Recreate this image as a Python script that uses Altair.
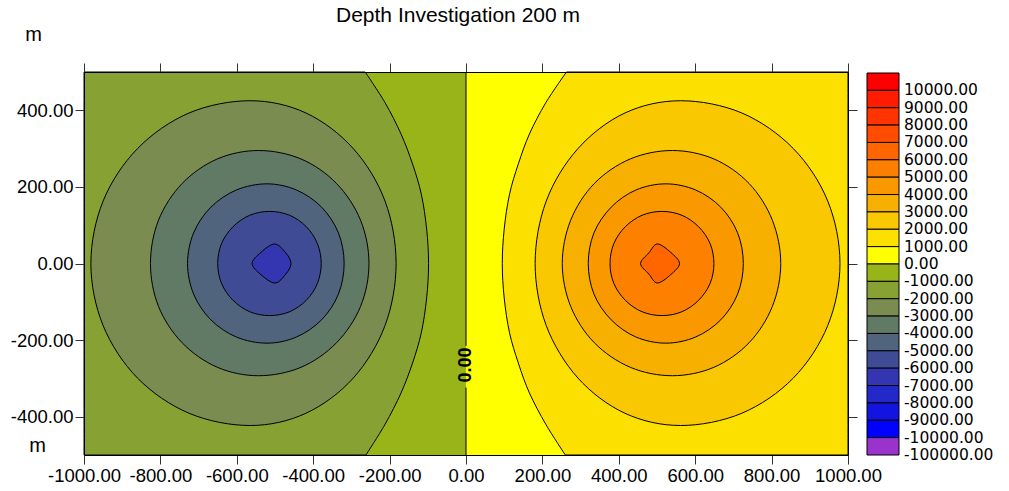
import altair as alt
import pandas as pd

TITLE = "Depth Investigation 200 m"

x_tick_values = [-1000, -800, -600, -400, -200, 0, 200, 400, 600, 800, 1000]
y_tick_values = [-400, -200, 0, 200, 400]

legend_labels = ["10000.00", "9000.00", "8000.00", "7000.00", "6000.00", "5000.00",
                 "4000.00", "3000.00", "2000.00", "1000.00", "0.00",
                 "-1000.00", "-2000.00", "-3000.00", "-4000.00", "-5000.00",
                 "-6000.00", "-7000.00", "-8000.00", "-9000.00", "-10000.00", "-100000.00"]
legend_colors = ["#FF0000", "#FF1C00", "#FF3400", "#FF4C00", "#FF6600", "#FD7F00",
                 "#FA9800", "#F8B000", "#F9C800", "#FCE100", "#FFFF00",
                 "#98B418", "#87A133", "#7B8C50", "#607A66", "#51647E",
                 "#3F4C95", "#3336B0", "#2229C8", "#1414E0", "#0000FF", "#9933CC"]

# half planes (-1000..0 on the left, 0..1000 on the right)
half_x0 = [-1000, 0]
half_x1 = [0, 1000]
half_colors = ["#98B418", "#FFFF00"]

# open -1000 / +1000 contours, read at these y levels
arc_y = [500, 420, 338, 260, 181, 90, 0, -90, -181, -260, -338, -420, -500]
arc_neg1000_x = [-264, -212, -170, -140, -117, -103, -98, -103, -117, -140, -170, -212, -262]
arc_pos1000_x = [263, 209, 166, 137, 114, 100, 95, 100, 114, 137, 166, 209, 260]
arc_colors = ["#87A133", "#FCE100"]
arc_edges = [-1000, 1000]

# closed contours, points read clockwise starting at the left-most point
ring_n2000_x = [-982, -950, -860, -725, -565, -419, -295, -212, -183, -212, -295, -419, -565, -725, -860, -950]
ring_n2000_y = [0, 163, 300, 393, 425, 393, 300, 163, 0, -162, -299, -391, -423, -391, -299, -162]
ring_n3000_x = [-826, -805, -743, -651, -543, -432, -339, -276, -254, -276, -339, -432, -543, -651, -743, -805]
ring_n3000_y = [0, 113, 209, 273, 295, 273, 209, 113, 0, -112, -207, -271, -293, -271, -207, -112]
ring_n4000_x = [-729, -713, -668, -601, -521, -444, -378, -334, -319, -334, -378, -444, -521, -601, -668, -713]
ring_n4000_y = [0, 80, 147, 192, 208, 192, 147, 80, 0, -80, -147, -192, -208, -192, -147, -80]
ring_n5000_x = [-650, -640, -610, -566, -514, -462, -418, -389, -379, -389, -418, -462, -514, -566, -610, -640]
ring_n5000_y = [0, 52, 96, 126, 136, 126, 96, 52, 0, -52, -96, -126, -136, -126, -96, -52]
ring_n6000_x = [-560, -537, -501, -472, -458, -472, -500, -537]
ring_n6000_y = [0, 29, 51, 28, 0, -28, -51, -29]

ring_p2000_x = [181, 210, 293, 416, 562, 722, 857, 947, 979, 947, 857, 722, 562, 416, 293, 210]
ring_p2000_y = [0, 163, 300, 393, 425, 393, 300, 163, 0, -162, -299, -391, -423, -391, -299, -162]
ring_p3000_x = [252, 274, 336, 430, 540, 649, 741, 802, 824, 802, 741, 649, 540, 430, 336, 274]
ring_p3000_y = [0, 113, 209, 273, 295, 273, 209, 113, 0, -112, -207, -271, -293, -271, -207, -112]
ring_p4000_x = [320, 335, 380, 445, 523, 601, 667, 711, 726, 711, 667, 601, 523, 445, 380, 335]
ring_p4000_y = [0, 80, 147, 192, 208, 192, 147, 80, 0, -80, -147, -192, -208, -192, -147, -80]
ring_p5000_x = [377, 387, 417, 461, 513, 565, 609, 639, 649, 639, 609, 565, 513, 461, 417, 387]
ring_p5000_y = [0, 52, 96, 126, 136, 126, 96, 52, 0, -52, -96, -126, -136, -126, -96, -52]
ring_p6000_x = [457, 479, 501, 536, 559, 536, 501, 479]
ring_p6000_y = [0, 28, 51, 29, 0, -29, -51, -28]

rings = [
    (0, "n2000", "#7B8C50", ring_n2000_x, ring_n2000_y),
    (1, "n3000", "#607A66", ring_n3000_x, ring_n3000_y),
    (2, "n4000", "#51647E", ring_n4000_x, ring_n4000_y),
    (3, "n5000", "#3F4C95", ring_n5000_x, ring_n5000_y),
    (4, "n6000", "#3336B0", ring_n6000_x, ring_n6000_y),
    (0, "p2000", "#F9C800", ring_p2000_x, ring_p2000_y),
    (1, "p3000", "#F8B000", ring_p3000_x, ring_p3000_y),
    (2, "p4000", "#FA9800", ring_p4000_x, ring_p4000_y),
    (3, "p5000", "#FD8000", ring_p5000_x, ring_p5000_y),
    (4, "p6000", "#FF6600", ring_p6000_x, ring_p6000_y),
]

# zero contour (with gap for its label)
zero_seg_y0 = [500, -324]
zero_seg_y1 = [-215, -500]
zero_label_y = -265

# ---------------------------------------------------------------- tables
half_df = pd.DataFrame({"x0": half_x0, "x1": half_x1, "y0": [-500, -500],
                        "y1": [500, 500], "color": half_colors})
arc_rows = []
for side, xs in enumerate([arc_neg1000_x, arc_pos1000_x]):
    for k, (xv, yv) in enumerate(zip(xs, arc_y)):
        arc_rows.append({"side": side, "k": k, "x": xv, "y": yv,
                         "edge": arc_edges[side], "color": arc_colors[side]})
arc_df = pd.DataFrame(arc_rows)

ring_rows = []
for rank, name, color, xs, ys in rings:
    for k, (xv, yv) in enumerate(zip(xs, ys)):
        ring_rows.append({"rank": rank, "ring": name, "k": k, "x": xv, "y": yv, "color": color})
ring_df = pd.DataFrame(ring_rows)

zero_df = pd.DataFrame({"y0": zero_seg_y0, "y1": zero_seg_y1})
zlabel_df = pd.DataFrame({"x": [0], "y": [zero_label_y], "t": ["0.00"]})

leg_df = pd.DataFrame({"top": list(range(len(legend_labels))),
                       "bottom": [i + 1 for i in range(len(legend_labels))],
                       "label": legend_labels, "color": legend_colors})

# ---------------------------------------------------------------- scales / axes
FONT = "Liberation Sans"
LBL = "datum.value < 0 ? '-' + format(-datum.value, '.2f') : format(datum.value, '.2f')"


def XS():
    return alt.Scale(domain=[-1000, 1000], nice=False, zero=False)


def YS():
    return alt.Scale(domain=[-500, 500], nice=False, zero=False)


ax_bottom = alt.Axis(orient="bottom", values=x_tick_values, labelExpr=LBL, tickSize=9,
                     labelPadding=2, labelOverlap=False, labelFlush=False, labelBound=False,
                     domain=True, grid=False, title="m", titleAngle=0,
                     titleX=-47, titleY=-4, titleAlign="center", titleBaseline="alphabetic",
                     titleFontSize=20, zindex=1)
ax_left = alt.Axis(orient="left", values=y_tick_values, labelExpr=LBL, tickSize=9,
                   labelPadding=2, labelOverlap=False, labelFlush=False,
                   domain=True, grid=False, title="m", titleAngle=0,
                   titleX=-51, titleY=-32, titleAlign="center", titleBaseline="alphabetic",
                   titleFontSize=20, zindex=1)
ax_top = alt.Axis(orient="top", values=x_tick_values, labels=False, tickSize=9,
                  domain=True, grid=False, title=None, zindex=1)
ax_right = alt.Axis(orient="right", values=y_tick_values, labels=False, tickSize=9,
                    domain=True, grid=False, title=None, zindex=1)

# ---------------------------------------------------------------- layers
bg = alt.Chart(half_df).mark_rect().encode(
    x=alt.X("x0:Q", scale=XS(), axis=ax_bottom),
    x2="x1:Q",
    y=alt.Y("y0:Q", scale=YS(), axis=ax_left),
    y2="y1:Q",
    fill=alt.Fill("color:N", scale=None),
)

frame = alt.Chart(half_df).mark_point(opacity=0).encode(
    x=alt.X("x0:Q", scale=XS(), axis=ax_top),
    y=alt.Y("y0:Q", scale=YS(), axis=ax_right),
)

arcs = alt.Chart(arc_df).mark_area(orient="horizontal", interpolate="cardinal",
                                   stroke="black", strokeWidth=1).encode(
    y=alt.Y("y:Q", scale=YS(), axis=None),
    x=alt.X("x:Q", scale=XS(), axis=None),
    x2="edge:Q",
    detail="side:N",
    fill=alt.Fill("color:N", scale=None),
)

ring_layers = []
for r in range(5):
    ring_layers.append(
        alt.Chart(ring_df).transform_filter(alt.datum.rank == r).mark_line(
            interpolate="cardinal-closed", stroke="black", strokeWidth=1).encode(
            x=alt.X("x:Q", scale=XS(), axis=None),
            y=alt.Y("y:Q", scale=YS(), axis=None),
            detail="ring:N",
            order="k:Q",
            fill=alt.Fill("color:N", scale=None),
        )
    )

zero_line = alt.Chart(zero_df).mark_rule(color="black", strokeWidth=1).encode(
    x=alt.XDatum(0, scale=XS(), axis=None),
    y=alt.Y("y0:Q", scale=YS(), axis=None),
    y2="y1:Q",
)

zero_text = alt.Chart(zlabel_df).mark_text(angle=270, font=FONT, fontSize=18,
                                           fontWeight="bold", color="black",
                                           align="center", baseline="middle").encode(
    x=alt.X("x:Q", scale=XS(), axis=None),
    y=alt.Y("y:Q", scale=YS(), axis=None),
    text="t:N",
)

LX = alt.Scale(domain=[0, 1], range=[783, 815])
LY = alt.Scale(domain=[0, 22], range=[1, 383])

leg_rect = alt.Chart(leg_df).mark_rect(stroke="black", strokeWidth=1).encode(
    x=alt.XDatum(0, scale=LX, axis=None),
    x2=alt.X2Datum(1),
    y=alt.Y("top:Q", scale=LY, axis=None),
    y2="bottom:Q",
    fill=alt.Fill("color:N", scale=None),
)
leg_text = alt.Chart(leg_df).mark_text(align="left", baseline="middle", dx=5,
                                       font="DejaVu Sans", fontSize=15.5,
                                       color="black").encode(
    x=alt.XDatum(1, scale=LX, axis=None),
    y=alt.Y("bottom:Q", scale=LY, axis=None),
    text="label:N",
)

chart = alt.layer(bg, arcs, *ring_layers, zero_line, zero_text, leg_rect, leg_text, frame).resolve_scale(
    x="independent", y="independent"
).properties(
    width=764, height=383,
    title=alt.TitleParams(TITLE, font=FONT, fontSize=21, fontWeight="normal", color="black",
                          anchor="middle", frame="group", dx=-8, offset=-2),
    padding={"left": 10, "top": 5, "right": 5, "bottom": 5},
    background="white",
).configure_view(strokeWidth=0).configure_axis(
    labelFont=FONT, labelFontSize=18.5, labelColor="black", tickColor="#333333",
    domainColor="black", domainWidth=1, titleFont=FONT, titleFontWeight="normal",
    titleColor="black",
)

chart.save("out.html", embed_options={"renderer": "svg", "actions": False})
